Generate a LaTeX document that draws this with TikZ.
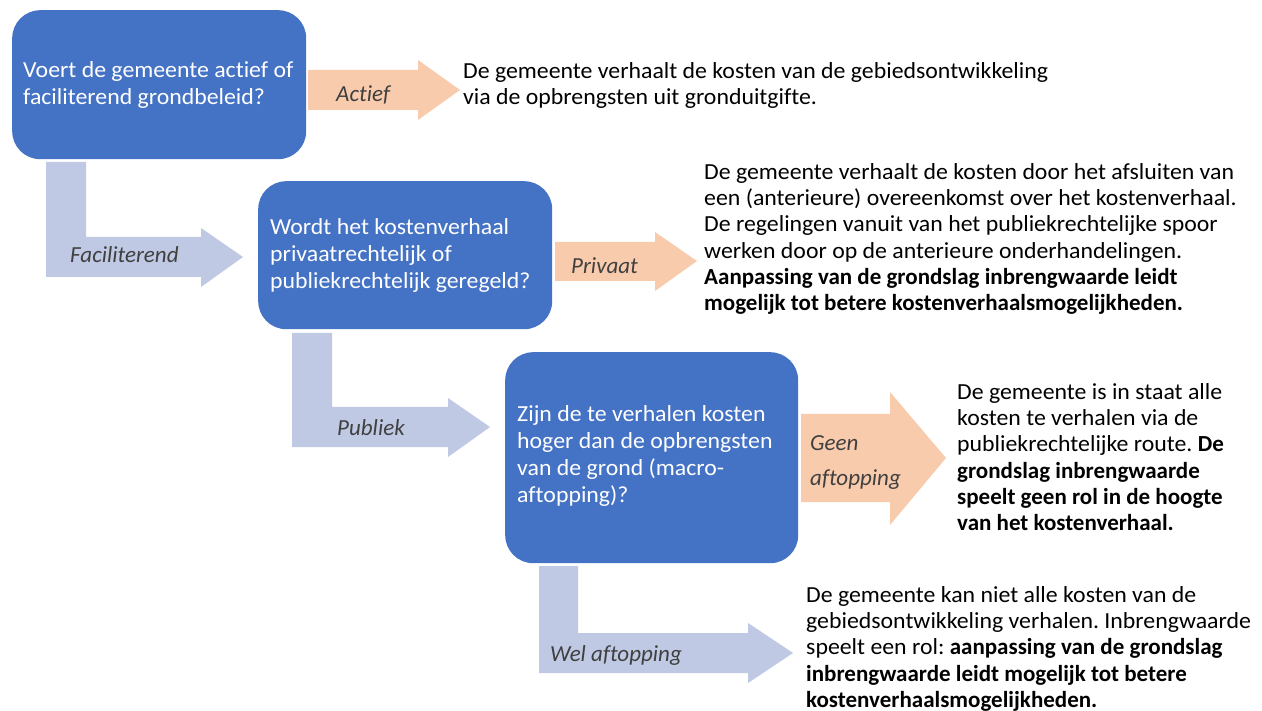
\documentclass[tikz,border=0pt]{standalone}
\usepackage{fontspec}
\setmainfont{Carlito}[Ligatures=NoCommon, UprightFeatures={FakeStretch=1.035}]
\newcommand{\hb}[1]{{\bfseries #1}}
\frenchspacing
\definecolor{qblue}{HTML}{4472C4}
\definecolor{apricot}{HTML}{F8CBAD}
\definecolor{lavblue}{HTML}{BFC9E4}
\definecolor{lbl}{HTML}{404040}
\tikzset{
  qbox/.style={fill=qblue, draw=none, rounded corners=28pt, anchor=north west, inner sep=0pt},
  qtext/.style={text=white, anchor=north west, align=left, inner sep=0pt, font=\fontsize{23}{27}\selectfont},
  desc/.style={text=black, anchor=north west, align=left, inner sep=0pt, font=\fontsize{23}{26.3}\selectfont},
  lab/.style={text=lbl, anchor=west, inner sep=0pt, font=\fontsize{23}{35}\selectfont\itshape},
  orangearrow/.style={fill=apricot, draw=none},
  bluearrow/.style={fill=lavblue, draw=none},
}
\begin{document}
\begin{tikzpicture}[x=1pt,y=-1pt]
\useasboundingbox (0,0) rectangle (1262,711);
% question boxes
\node[qbox, minimum width=294pt, minimum height=149pt] (q1) at (12,10) {};
\node[qbox, minimum width=294pt, minimum height=148pt] (q2) at (258,181) {};
\node[qbox, minimum width=293pt, minimum height=211pt] (q3) at (505,352) {};
\node[qtext] (q1t) at (23,61) {Voert de gemeente actief of\\faciliterend grondbeleid?};
\node[qtext] (q2t) at (270,218) {Wordt het kostenverhaal\\privaatrechtelijk of\\publiekrechtelijk geregeld?};
\node[qtext] (q3t) at (517,405) {Zijn de te verhalen kosten\\hoger dan de opbrengsten\\van de grond (macro-\\aftopping)?};
% block arrows
\fill[orangearrow] (308,70) -- (418,70) -- (418,60) -- (460,90) -- (418,120) -- (418,110) -- (308,110) -- cycle;
\fill[bluearrow] (46,162) -- (86,162) -- (86,237) -- (201,237) -- (201,228) -- (243,257) -- (201,287) -- (201,277) -- (46,277) -- cycle;
\fill[orangearrow] (555,242) -- (655,242) -- (655,232) -- (697,261) -- (655,291) -- (655,281) -- (555,281) -- cycle;
\fill[bluearrow] (292,333) -- (332,333) -- (332,407) -- (448,407) -- (448,398) -- (490,427) -- (448,457) -- (448,447) -- (292,447) -- cycle;
\fill[orangearrow] (801,414) -- (890,414) -- (890,392) -- (946,458) -- (890,525) -- (890,502) -- (801,502) -- cycle;
\fill[bluearrow] (539,566) -- (578,566) -- (578,633) -- (748,633) -- (748,623) -- (793,653) -- (748,683) -- (748,673) -- (539,673) -- cycle;
% arrow labels
\node[lab] (l1) at (336,95) {Actief};
\node[lab] (l2) at (70,255) {Faciliterend};
\node[lab] (l3) at (571,266) {Privaat};
\node[lab] (l4) at (337,428) {Publiek};
\node[lab, align=left, anchor=north west] (l5) at (810,435) {Geen\\aftopping};
\node[lab] (l6) at (550,655) {Wel aftopping};
% descriptions
\node[desc] (d1) at (463,62) {De gemeente verhaalt de kosten van de gebiedsontwikkeling\\via de opbrengsten uit gronduitgifte.};
\node[desc] (d2) at (704,163) {De gemeente verhaalt de kosten door het afsluiten van\\een (anterieure) overeenkomst over het kostenverhaal.\\De regelingen vanuit van het publiekrechtelijke spoor\\werken door op de anterieure onderhandelingen.\\\hb{Aanpassing van de grondslag inbrengwaarde leidt}\\\hb{mogelijk tot betere kostenverhaalsmogelijkheden.}};
\node[desc] (d3) at (957,383) {De gemeente is in staat alle\\kosten te verhalen via de\\publiekrechtelijke route. \hb{De}\\\hb{grondslag inbrengwaarde}\\\hb{speelt geen rol in de hoogte}\\\hb{van het kostenverhaal.}};
\node[desc] (d4) at (806,586) {De gemeente kan niet alle kosten van de\\gebiedsontwikkeling verhalen. Inbrengwaarde\\speelt een rol: \hb{aanpassing van de grondslag}\\\hb{inbrengwaarde leidt mogelijk tot betere}\\\hb{kostenverhaalsmogelijkheden.}};
\end{tikzpicture}
\end{document}
